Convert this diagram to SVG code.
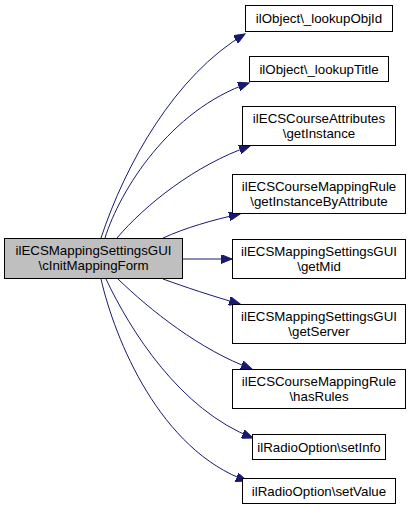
<svg xmlns="http://www.w3.org/2000/svg" width="413" height="517" viewBox="0 0 413 517">
<style>
.n rect{fill:#fff;stroke:#000;stroke-width:1}
.m rect{fill:#bfbfbf;stroke:#000;stroke-width:1}
text{font-family:"Liberation Sans",Arial,sans-serif;font-size:13.3px;text-anchor:middle;fill:#000}
.e path{fill:none;stroke:#191970;stroke-width:1;marker-end:url(#ah)}
</style>
<defs>
<marker id="ah" markerWidth="12" markerHeight="9" refX="11" refY="4.5" orient="auto" markerUnits="userSpaceOnUse">
<path d="M0,0 L11,4.5 L0,9 z" fill="#191970" stroke="#191970" stroke-width="1"/>
</marker>
</defs>
<rect width="413" height="517" fill="#fff"/>
<g id="edges" class="e">
<path d="M101,238 C125,165 175,75 245,34"/>
<path d="M105,238 C120,190 170,110 249,83"/>
<path d="M117,238 C145,205 195,165 250,146"/>
<path d="M163,238 C185,228 212,220 240,214"/>
<path d="M183,259 L232,259"/>
<path d="M163,279 C185,287 212,296 240,304"/>
<path d="M118,279 C150,310 200,350 252,369"/>
<path d="M106,279 C130,330 180,410 253,438"/>
<path d="M101,279 C115,340 160,450 247,481"/>
</g>
<g id="main" class="m">
<rect x="4.5" y="238.5" width="178" height="40"/>
<text x="93.5" y="255">ilECSMappingSettingsGUI</text>
<text x="93.5" y="270">\cInitMappingForm</text>
</g>
<g id="n1" class="n">
<rect x="245.5" y="5.5" width="147" height="26"/>
<text x="319" y="23">ilObject\_lookupObjId</text>
</g>
<g id="n2" class="n">
<rect x="249.5" y="56.5" width="139" height="25"/>
<text x="319" y="74">ilObject\_lookupTitle</text>
</g>
<g id="n3" class="n">
<rect x="242.5" y="106.5" width="153" height="39"/>
<text x="319" y="123">ilECSCourseAttributes</text>
<text x="319" y="138">\getInstance</text>
</g>
<g id="n4" class="n">
<rect x="232.5" y="174.5" width="173" height="39"/>
<text x="319" y="191">ilECSCourseMappingRule</text>
<text x="319" y="206">\getInstanceByAttribute</text>
</g>
<g id="n5" class="n">
<rect x="232.5" y="239.5" width="173" height="39"/>
<text x="319" y="256">ilECSMappingSettingsGUI</text>
<text x="319" y="271">\getMid</text>
</g>
<g id="n6" class="n">
<rect x="232.5" y="304.5" width="173" height="39"/>
<text x="319" y="321">ilECSMappingSettingsGUI</text>
<text x="319" y="336">\getServer</text>
</g>
<g id="n7" class="n">
<rect x="232.5" y="369.5" width="173" height="39"/>
<text x="319" y="386">ilECSCourseMappingRule</text>
<text x="319" y="401">\hasRules</text>
</g>
<g id="n8" class="n">
<rect x="252.5" y="434.5" width="133" height="25"/>
<text x="319" y="452">ilRadioOption\setInfo</text>
</g>
<g id="n9" class="n">
<rect x="242.5" y="478.5" width="153" height="25"/>
<text x="319" y="496">ilRadioOption\setValue</text>
</g>
</svg>
